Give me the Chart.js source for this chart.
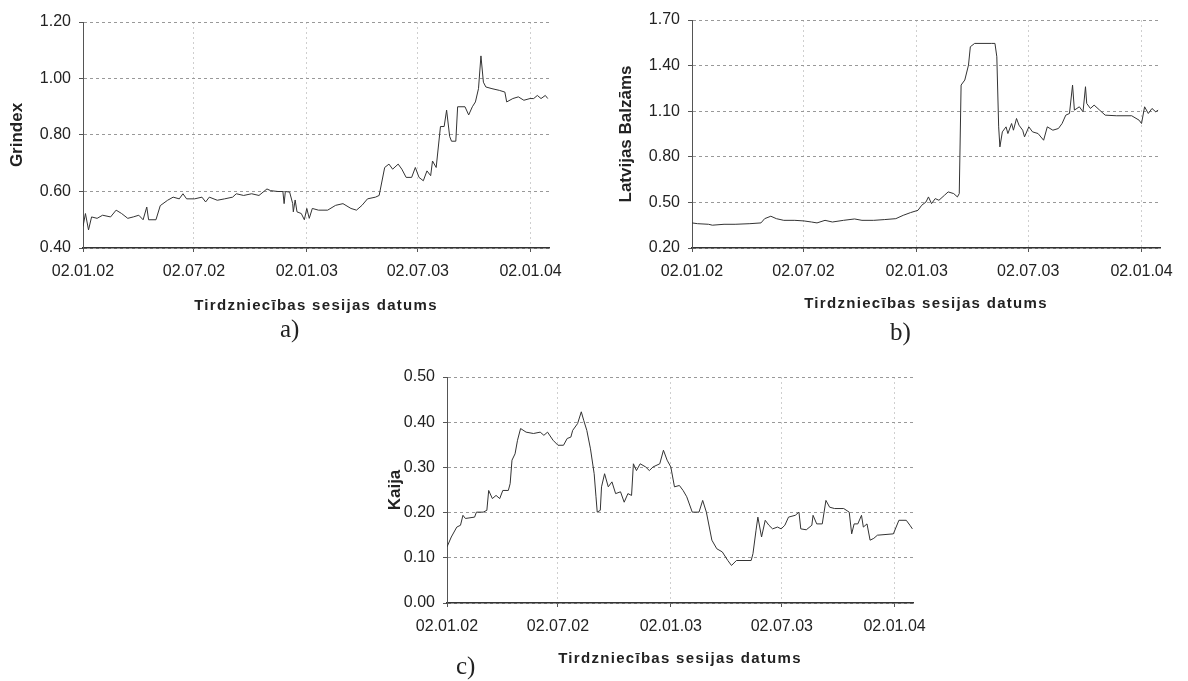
<!DOCTYPE html>
<html>
<head>
<meta charset="utf-8">
<script src="https://cdn.jsdelivr.net/npm/chart.js@4"></script>
<style>
  body { margin: 0; background: #fff; width: 1188px; height: 681px; position: relative; overflow: hidden; }
  canvas { position: absolute; }
  .cap { position: absolute; font-family: "Liberation Serif", serif; font-size: 25px; color: #222; }
</style>
</head>
<body>
<canvas id="chartA" width="600" height="320" style="left:0px;top:0px"></canvas>
<canvas id="chartB" width="579" height="320" style="left:609px;top:0px"></canvas>
<canvas id="chartC" width="600" height="320" style="left:364px;top:355px"></canvas>
<div class="cap" style="left:280px;top:315px">a)</div>
<div class="cap" style="left:890px;top:318px">b)</div>
<div class="cap" style="left:456px;top:652px">c)</div>
<script>
// days counted from 02.01.02
const tickDays = [0, 181, 365, 546, 730];
const tickLabels = ["02.01.02", "02.07.02", "02.01.03", "02.07.03", "02.01.04"];
const xTitle = "Tirdzniecības sesijas datums";

const grindexTicks = [0.4, 0.6, 0.8, 1.0, 1.2];
const grindexDays = [0, 4, 9, 14, 23, 32, 45, 54, 63, 73, 82, 91, 98, 104, 107, 119, 126, 138, 147, 157,
  163, 169, 182, 194, 200, 206, 219, 231, 244, 250, 262, 275, 287, 300, 306, 318, 326, 328, 330, 337,
  342, 343, 346, 349, 356, 361, 365, 369, 374, 384, 399, 412, 424, 437, 446, 455, 464, 477, 483, 492,
  499, 505, 514, 520, 527, 536, 542, 548, 555, 561, 567, 570, 576, 583, 589, 593, 598, 601, 608, 611,
  623, 629, 635, 640, 645, 649, 653, 657, 667, 679, 688, 691, 701, 710, 719, 729, 735, 741, 747, 754, 758];
const grindexValues = [0.476, 0.522, 0.464, 0.51, 0.505, 0.516, 0.51, 0.534, 0.522, 0.505, 0.51, 0.516, 0.5, 0.545, 0.5, 0.5, 0.55, 0.569, 0.58, 0.574,
  0.592, 0.574, 0.574, 0.58, 0.563, 0.58, 0.569, 0.574, 0.58, 0.592, 0.586, 0.592, 0.586, 0.609, 0.603, 0.6, 0.6, 0.557, 0.6, 0.598,
  0.557, 0.528, 0.57, 0.528, 0.522, 0.5, 0.54, 0.505, 0.54, 0.534, 0.534, 0.551, 0.557, 0.54, 0.534, 0.551, 0.574, 0.58, 0.586, 0.685,
  0.697, 0.679, 0.697, 0.679, 0.65, 0.65, 0.685, 0.65, 0.638, 0.673, 0.656, 0.708, 0.685, 0.83, 0.83, 0.888, 0.795, 0.778, 0.778, 0.9,
  0.9, 0.871, 0.9, 0.917, 0.964, 1.08, 0.987, 0.97, 0.964, 0.958, 0.952, 0.917, 0.929, 0.935, 0.923, 0.929, 0.929, 0.94, 0.929, 0.94, 0.929];

const balzamsTicks = [0.2, 0.5, 0.8, 1.1, 1.4, 1.7];
const balzamsDays = [0, 9, 27, 33, 52, 70, 94, 112, 118, 128, 137, 149, 167, 182, 194, 203, 216, 228, 246, 264,
  276, 295, 313, 331, 343, 355, 367, 373, 380, 384, 389, 395, 401, 410, 416, 425, 431, 434, 437, 443,
  449, 452, 459, 486, 492, 495, 498, 500, 504, 510, 513, 519, 522, 527, 531, 537, 540, 547, 553, 562,
  571, 577, 586, 595, 601, 607, 613, 618, 621, 629, 635, 639, 641, 647, 653, 662, 671, 689, 714, 726,
  730, 735, 741, 747, 753, 757];
const balzamsValues = [0.365, 0.36, 0.356, 0.35, 0.356, 0.356, 0.36, 0.365, 0.393, 0.409, 0.393, 0.382, 0.382, 0.378, 0.371, 0.365, 0.382, 0.371, 0.382, 0.391,
  0.382, 0.382, 0.387, 0.393, 0.415, 0.433, 0.448, 0.481, 0.503, 0.536, 0.492, 0.525, 0.514, 0.547, 0.569, 0.558, 0.536, 0.558, 1.272, 1.305,
  1.403, 1.524, 1.546, 1.546, 1.546, 1.458, 0.997, 0.865, 0.964, 0.997, 0.953, 1.019, 0.975, 1.052, 1.008, 0.975, 0.931, 0.997, 0.964, 0.953,
  0.909, 0.997, 0.975, 0.986, 1.019, 1.074, 1.085, 1.272, 1.107, 1.129, 1.096, 1.261, 1.151, 1.118, 1.14, 1.107, 1.074, 1.07, 1.07, 1.041,
  1.019, 1.129, 1.085, 1.118, 1.096, 1.107];

const kaijaTicks = [0, 0.1, 0.2, 0.3, 0.4, 0.5];
const kaijaDays = [0, 7, 16, 22, 26, 30, 45, 48, 59, 65, 68, 74, 80, 86, 91, 100, 103, 106, 111, 115,
  120, 129, 141, 152, 158, 164, 173, 181, 190, 196, 202, 205, 213, 219, 223, 228, 234, 240, 243, 245,
  250, 252, 257, 263, 269, 275, 283, 289, 295, 301, 304, 309, 315, 324, 330, 336, 347, 353, 359, 365,
  371, 379, 385, 391, 400, 411, 417, 423, 432, 440, 449, 458, 464, 472, 496, 499, 504, 507, 513, 519,
  525, 531, 539, 545, 551, 557, 568, 574, 577, 586, 595, 597, 603, 612, 618, 624, 632, 647, 656, 660,
  664, 670, 676, 679, 685, 690, 696, 702, 728, 737, 749, 755, 759];
const kaijaValues = [0.124, 0.146, 0.168, 0.172, 0.194, 0.187, 0.19, 0.201, 0.201, 0.205, 0.249, 0.231, 0.238, 0.231, 0.249, 0.249, 0.264, 0.316, 0.33, 0.36,
  0.386, 0.378, 0.375, 0.378, 0.371, 0.378, 0.36, 0.349, 0.349, 0.364, 0.367, 0.382, 0.397, 0.423, 0.404, 0.382, 0.341, 0.286, 0.235, 0.201,
  0.205, 0.257, 0.286, 0.257, 0.268, 0.242, 0.246, 0.223, 0.242, 0.238, 0.308, 0.293, 0.308, 0.301, 0.293, 0.301, 0.308, 0.338, 0.316, 0.301,
  0.257, 0.26, 0.249, 0.235, 0.201, 0.201, 0.227, 0.201, 0.139, 0.12, 0.113, 0.094, 0.083, 0.094, 0.094, 0.109, 0.161, 0.19, 0.146, 0.183,
  0.172, 0.164, 0.168, 0.164, 0.172, 0.19, 0.194, 0.201, 0.164, 0.162, 0.172, 0.194, 0.175, 0.175, 0.227, 0.212, 0.209, 0.209, 0.201, 0.153,
  0.175, 0.175, 0.194, 0.168, 0.175, 0.139, 0.143, 0.15, 0.153, 0.183, 0.183, 0.172, 0.164];

const X_MAX = 760;
const FONT = "'Liberation Sans', Arial, sans-serif";

// the x title in the scan is letter-spaced
const spacedTitle = {
  id: "spacedTitle",
  beforeDraw(chart) {
    const sx = chart.scales.x;
    if (sx._spaced) return;
    const orig = sx.drawTitle;
    sx.drawTitle = function () {
      this.ctx.save();
      this.ctx.letterSpacing = "1.3px";
      orig.call(this);
      this.ctx.restore();
    };
    sx._spaced = true;
  },
};

function buildChart(canvasId, days, values, yTicks, yTitle, opts) {
  return new Chart(document.getElementById(canvasId), {
    type: "line",
    data: {
      datasets: [
        {
          data: days.map((d, i) => ({ x: d, y: values[i] })),
          borderColor: "#333",
          borderWidth: 1,
          pointRadius: 0,
          tension: 0,
          fill: false,
        },
      ],
    },
    options: {
      responsive: false,
      animation: false,
      devicePixelRatio: 1,
      layout: { padding: { top: opts.padTop, right: opts.padRight, left: 0, bottom: 0 } },
      plugins: { legend: { display: false }, tooltip: { enabled: false } },
      scales: {
        x: {
          type: "linear",
          min: 0,
          max: X_MAX,
          afterBuildTicks: (s) => { s.ticks = tickDays.map((v) => ({ value: v })); },
          afterFit: (s) => { s.height = 72; },
          ticks: {
            callback: (v) => tickLabels[tickDays.indexOf(v)],
            font: { family: FONT, size: 16 },
            color: "#222",
            padding: 10,
            maxRotation: 0,
            autoSkip: false,
          },
          grid: { color: "#cfcfcf", tickColor: "#555", tickLength: 4 },
          border: { color: "#333", width: 1.5, dash: [2, 3] },
          title: {
            display: true,
            text: xTitle,
            font: { family: FONT, size: 15, weight: "bold" },
            color: "#222",
            padding: { top: 4, bottom: opts.xTitlePad },
          },
        },
        y: {
          min: yTicks[0],
          max: yTicks[yTicks.length - 1],
          afterBuildTicks: (s) => { s.ticks = yTicks.map((v) => ({ value: v })); },
          afterFit: (s) => { s.width = 83; },
          ticks: {
            callback: (v) => v.toFixed(2),
            font: { family: FONT, size: 16 },
            color: "#222",
            padding: 8,
          },
          grid: { color: "#999", tickColor: "#555", tickLength: 4 },
          border: { color: "#555", width: 1, dash: [3, 3] },
          title: {
            display: true,
            text: yTitle,
            font: { family: FONT, size: 17, weight: "bold" },
            color: "#222",
            padding: { top: opts.yTitlePad, bottom: 4 },
          },
        },
      },
    },
    plugins: [spacedTitle],
  });
}

buildChart("chartA", grindexDays, grindexValues, grindexTicks, "Grindex",
  { padTop: 22, padRight: 51, xTitlePad: 5, yTitlePad: 7 });
buildChart("chartB", balzamsDays, balzamsValues, balzamsTicks, "Latvijas Balzāms",
  { padTop: 20, padRight: 28, xTitlePad: 7, yTitlePad: 7 });
buildChart("chartC", kaijaDays, kaijaValues, kaijaTicks, "Kaija",
  { padTop: 22, padRight: 51, xTitlePad: 7, yTitlePad: 21 });
</script>
</body>
</html>
